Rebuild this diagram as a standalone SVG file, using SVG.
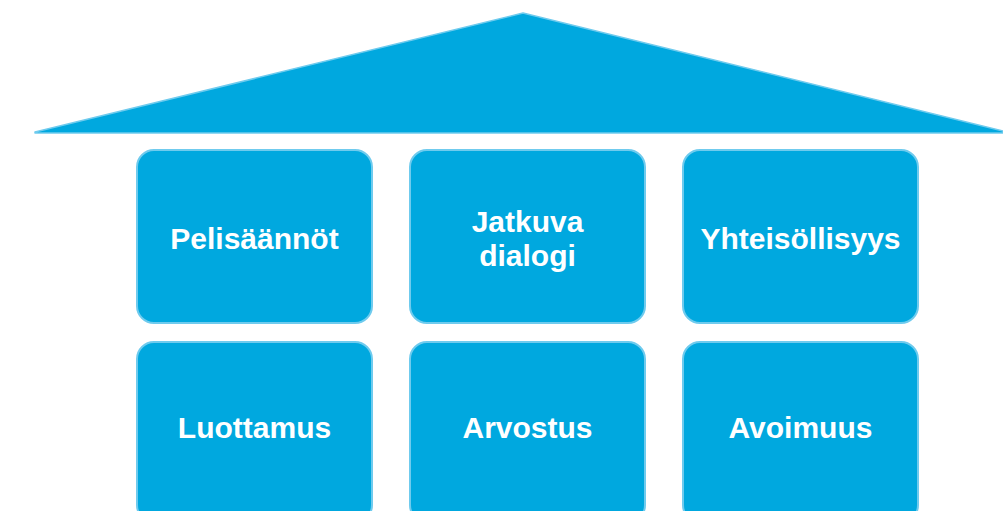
<svg xmlns="http://www.w3.org/2000/svg" width="1003" height="511" viewBox="0 0 1003 511">
<style>
.box{fill:#00a8df;stroke:#6fcbee;stroke-width:2}
.roof{fill:#00a8df;stroke:#6fcbee;stroke-width:1.5;stroke-linejoin:round}
.lbl{font-family:"Liberation Sans",Arial,sans-serif;font-size:30px;font-weight:bold;fill:#ffffff;text-anchor:middle}
</style>
<rect width="1003" height="511" fill="#ffffff"/>
<g id="roof"><polygon class="roof" points="35,132 523,13 1003,131 1003,133 35,133"/></g>
<g id="n1"><rect class="box" x="137" y="150" width="235" height="173" rx="17"/><text class="lbl" x="254.5" y="249">Pelisäännöt</text></g>
<g id="n2"><rect class="box" x="410" y="150" width="235" height="173" rx="17"/><text class="lbl" x="527.5" y="232">Jatkuva</text><text class="lbl" x="527.5" y="266">dialogi</text></g>
<g id="n3"><rect class="box" x="683" y="150" width="235" height="173" rx="17"/><text class="lbl" x="800.5" y="249">Yhteisöllisyys</text></g>
<g id="n4"><rect class="box" x="137" y="342" width="235" height="180" rx="17"/><text class="lbl" x="254.5" y="438">Luottamus</text></g>
<g id="n5"><rect class="box" x="410" y="342" width="235" height="180" rx="17"/><text class="lbl" x="527.5" y="438">Arvostus</text></g>
<g id="n6"><rect class="box" x="683" y="342" width="235" height="180" rx="17"/><text class="lbl" x="800.5" y="438">Avoimuus</text></g>
<g id="connectors"></g>
</svg>
